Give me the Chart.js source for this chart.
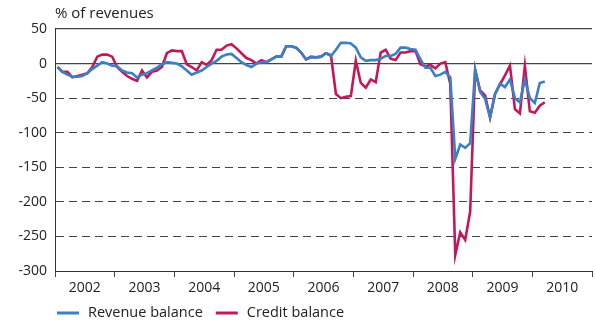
<!DOCTYPE html>
<html>
<head>
<meta charset="utf-8">
<script src="https://cdn.jsdelivr.net/npm/chart.js@4"></script>
<style>
  html, body { margin: 0; padding: 0; background: #fff; }
  #wrap { width: 595px; height: 323px; position: relative; }
</style>
</head>
<body>
<div id="wrap"><canvas id="chart"></canvas></div>
<script>
// monthly values, Jan 2002 .. Mar 2010, % of revenues
const years = ['2002', '2003', '2004', '2005', '2006', '2007', '2008', '2009', '2010'];
const titleText = '% of revenues';

const revenueBalance = [
  -5, -12, -16, -19, -19, -18, -14, -8, -3, 2, 0, -3,          // 2002
  -4, -10, -13, -14, -20, -16, -14, -10, -6, -1, 2, 1,         // 2003
  0, -4, -10, -16, -13, -10, -5, 0, 4, 10, 13, 14,             // 2004
  8, 2, -2, -5, 0, 2, 2, 6, 10, 10, 25, 25,                    // 2005
  23, 16, 6, 9, 9, 10, 15, 11, 20, 30, 30, 29,                 // 2006
  23, 9, 4, 5, 5, 7, 11, 11, 14, 23, 23, 21,                   // 2007
  20, 6, -6, -6, -18, -16, -12, -20, -138, -117, -122, -115,   // 2008
  -9, -41, -51, -78, -44, -29, -34, -23, -50, -56, -23, -50,   // 2009
  -57, -28, -26                                                // 2010
];

const creditBalance = [
  -5, -12, -12, -20, -18, -16, -14, -5, 10, 13, 13, 10,        // 2002
  -5, -12, -18, -22, -25, -10, -20, -12, -10, -5, 15, 19,      // 2003
  18, 18, -1, -5, -10, 2, -2, 5, 20, 20, 26, 28,               // 2004
  22, 15, 8, 5, 0, 5, 2, 6, 10, 10, 25, 25,                    // 2005
  23, 16, 6, 10, 9, 10, 15, 12, -44, -50, -48, -47,            // 2006
  4, -28, -35, -23, -27, 16, 20, 7, 5, 16, 16, 18,             // 2007
  18, -1, -4, -2, -7, 0, 2, -30, -277, -244, -255, -214,       // 2008
  -9, -39, -46, -78, -44, -30, -17, -3, -66, -72, -3, -69,     // 2009
  -71, -61, -56                                                // 2010
];

const yMin = -300, yMax = 50, yStep = 50;
const solidLines = [0, 50];

Chart.defaults.font.family = '"Open Sans", "Noto Sans", sans-serif';
Chart.defaults.color = '#222';

// monthly value plotted mid-month on a month axis
const toPoints = arr => arr.map((v, i) => ({ x: i + 0.5, y: v }));

const chartText = {
  id: 'chartText',
  afterDraw(chart) {
    const { ctx, chartArea } = chart;
    ctx.save();
    ctx.fillStyle = '#222';
    ctx.textBaseline = 'middle';
    ctx.font = '15px "Open Sans", "Noto Sans", sans-serif';
    ctx.fillText(titleText, chartArea.left, 14);

    ctx.font = '14.5px "Open Sans", "Noto Sans", sans-serif';
    let x = chartArea.left + 2;
    const y = 313;
    chart.data.datasets.forEach(ds => {
      ctx.strokeStyle = ds.borderColor;
      ctx.lineWidth = 3;
      ctx.beginPath();
      ctx.moveTo(x, y);
      ctx.lineTo(x + 22, y);
      ctx.stroke();
      x += 31;
      ctx.fillText(ds.label, x, y);
      x += ctx.measureText(ds.label).width + 13;
    });
    ctx.restore();
  }
};

new Chart(document.getElementById('chart').getContext('2d'), {
  type: 'line',
  data: {
    datasets: [
      {
        label: 'Revenue balance',
        data: toPoints(revenueBalance),
        borderColor: '#3b7fc6',
        backgroundColor: '#3b7fc6',
        borderWidth: 2.6,
        pointRadius: 0,
        tension: 0
      },
      {
        label: 'Credit balance',
        data: toPoints(creditBalance),
        borderColor: '#c2185b',
        backgroundColor: '#c2185b',
        borderWidth: 2.6,
        pointRadius: 0,
        tension: 0
      }
    ]
  },
  options: {
    responsive: true,
    maintainAspectRatio: false,
    animation: false,
    devicePixelRatio: 1,
    layout: { padding: { top: 29, bottom: 28, left: 0, right: 0 } },
    plugins: {
      legend: { display: false },
      tooltip: { enabled: false }
    },
    scales: {
      x: {
        type: 'linear',
        min: 0,
        max: years.length * 12,
        afterBuildTicks: s => {
          const t = [];
          for (let v = 0; v <= years.length * 12; v += 6) t.push({ value: v });
          s.ticks = t;
        },
        afterFit: s => { s.height = 24; },
        ticks: {
          autoSkip: false,
          maxRotation: 0,
          padding: 3,
          font: { size: 14 },
          color: '#222',
          callback: v => (v % 12 === 6 ? years[(v - 6) / 12] : '')
        },
        grid: {
          drawOnChartArea: false,
          drawTicks: true,
          tickLength: 6,
          tickWidth: 1,
          tickColor: c => (c.tick && c.tick.value % 12 === 0 ? '#444' : 'rgba(0,0,0,0)')
        },
        border: { color: '#333', width: 1 }
      },
      y: {
        type: 'linear',
        position: 'left',
        min: yMin,
        max: yMax,
        afterFit: s => { s.width = 55; },
        ticks: {
          stepSize: yStep,
          padding: 8,
          font: { size: 14 },
          color: '#222'
        },
        grid: {
          drawTicks: false,
          lineWidth: 1,
          color: c => {
            const v = c.tick ? c.tick.value : null;
            return (solidLines.includes(v) || v === yMin) ? 'rgba(0,0,0,0)' : '#444';
          }
        },
        border: { color: '#333', width: 1, dash: [8, 5] }
      },
      ySolid: {
        type: 'linear',
        position: 'left',
        min: yMin,
        max: yMax,
        afterBuildTicks: s => { s.ticks = solidLines.map(v => ({ value: v })); },
        afterFit: s => { s.width = 0; },
        ticks: { display: false },
        grid: { drawTicks: false, color: '#444', lineWidth: 1.2 },
        border: { display: false }
      }
    }
  },
  plugins: [chartText]
});
</script>
</body>
</html>
